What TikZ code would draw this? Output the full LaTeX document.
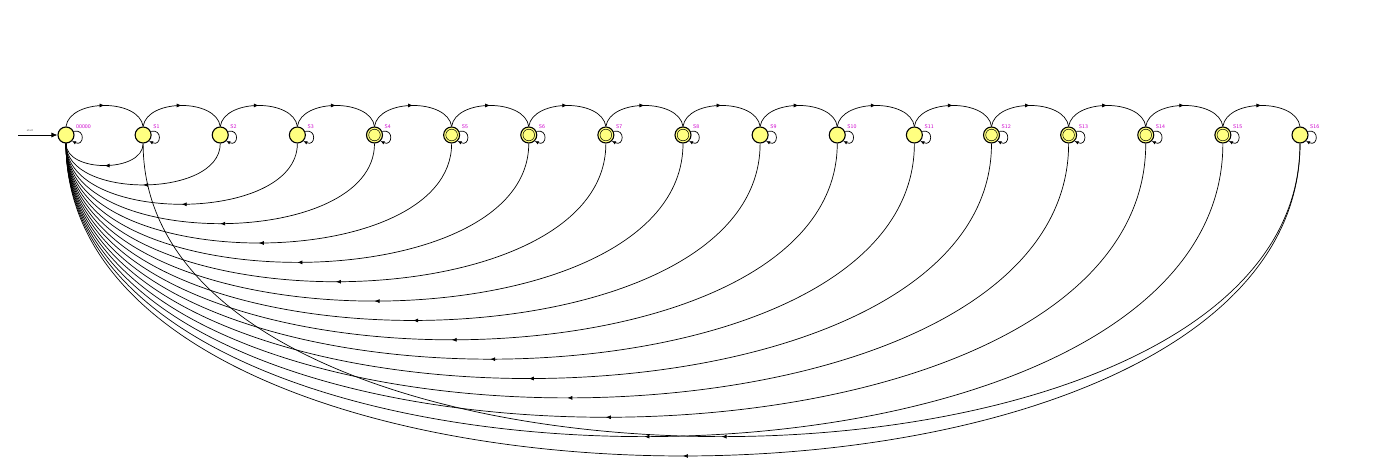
\documentclass[tikz,border=0pt]{standalone}
\usetikzlibrary{arrows.meta,decorations.markings,calc}
\definecolor{statefill}{HTML}{FFFF80}
\definecolor{lblcol}{HTML}{CC00CC}
\begin{document}
\begin{tikzpicture}[x=1pt,y=-1pt,
  state/.style={circle, draw=black, line width=1.1pt, fill=statefill, minimum size=16pt, inner sep=0pt},
  lbl/.style={text=lblcol, font=\sffamily\fontsize{5.5}{5.5}\selectfont, inner sep=0pt, anchor=base west},
  conn/.style={line width=0.7pt},
  midarrow/.style={postaction={decorate, decoration={markings, mark=at position 0.5 with {\arrow{Latex[length=5pt,width=4pt]}}}}},
  looparr/.style={line width=0.7pt, -{Latex[length=4pt,width=3.5pt]}}
]
\useasboundingbox (0,0) rectangle (1384,471);
% states
\foreach \i in {0,...,16} {
  \pgfmathsetmacro\x{66+77.125*\i}
  \node[state] (s\i) at (\x,135) {};
}
% accepting states (inner ring)
\foreach \i in {4,5,6,7,8,12,13,14,15} {
  \draw[line width=0.5pt] (s\i.center) circle[radius=5.8pt];
}
% labels
\node[lbl] (l0) at (76,128) {00000};
\foreach \i in {1,...,16} {
  \pgfmathsetmacro\x{66+77.125*\i+10}
  \node[lbl] (l\i) at (\x,128) {S\i};
}
% start arrow
\coordinate (st) at (18,135);
\node[font=\sffamily\fontsize{3}{3}\selectfont, text=black!70, inner sep=0pt] (startlbl) at (30,131) {start};
\draw[conn, -{Latex[length=6pt,width=5pt]}] (st) -- (s0.west);
% self loops
\foreach \i in {0,...,16} {
  \draw[looparr] (s\i.25) .. controls +(12,-3) and +(12,6) .. (s\i.-45);
}
% forward arcs
\foreach \i in {0,...,15} {
  \pgfmathtruncatemacro\j{\i+1}
  \draw[conn, midarrow] (s\i.north) .. controls ($(s\i.north)+(4,-28)$) and ($(s\j.north)+(-4,-28)$) .. (s\j.north);
}
% back arcs to s0
\foreach \i in {1,...,16} {
  \pgfmathsetmacro\h{(10.67+0.251*77.125*\i-8)/0.75}
  \draw[conn, midarrow] (s\i.south) .. controls ($(s\i.south)+(0,\h)$) and ($(s0.south)+(0,\h)$) .. (s0.south);
}
% s16 -> s1
\pgfmathsetmacro\hh{(10.67+0.251*77.125*15-8)/0.75}
\draw[conn, midarrow] (s16.south) .. controls ($(s16.south)+(0,\hh)$) and ($(s1.south)+(0,\hh)$) .. (s1.south);
\end{tikzpicture}
\end{document}
